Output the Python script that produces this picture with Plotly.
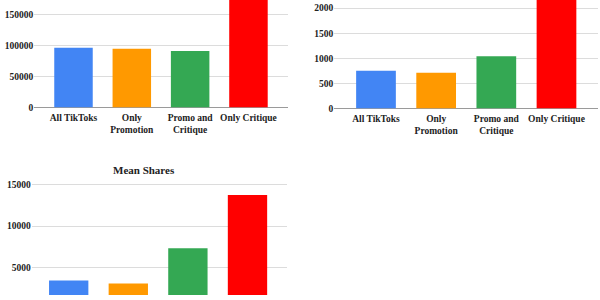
import plotly.graph_objects as go

categories = ["All TikToks", "Only<br>Promotion", "Promo and<br>Critique", "Only Critique"]
colors = ["#4285F4", "#FF9900", "#34A853", "#FF0000"]

# Top-left chart (title cropped): values; red bar exceeds visible area (estimated)
tl_values = [96800, 95200, 91400, 200000]
tl_ticks = [0, 50000, 100000, 150000]

# Top-right chart (title cropped); red bar exceeds visible area (estimated)
tr_values = [751, 712, 1039, 2500]
tr_ticks = [0, 500, 1000, 1500, 2000]

# Bottom-left chart: Mean Shares
bl_title = "Mean Shares"
bl_values = [3460, 3110, 7360, 13750]
bl_ticks = [5000, 10000, 15000]

FONT = "Liberation Serif"
W, H = 600, 300

def px_x(p):
    return p / W

def px_y(p):
    return 1 - p / H

def bold(items):
    return ["<b>" + str(t) + "</b>" for t in items]

fig = go.Figure()

fig.add_trace(go.Bar(x=categories, y=tl_values, marker_color=colors, xaxis="x", yaxis="y",
                     showlegend=False, marker_line_width=0))
fig.add_trace(go.Bar(x=categories, y=tr_values, marker_color=colors, xaxis="x2", yaxis="y2",
                     showlegend=False, marker_line_width=0))
fig.add_trace(go.Bar(x=categories, y=bl_values, marker_color=colors, xaxis="x3", yaxis="y3",
                     showlegend=False, marker_line_width=0))

tickfont = dict(family=FONT, size=9.5, color="#222222")
common_x = dict(type="category", showgrid=False, zeroline=False, showline=False,
                ticks="", tickfont=tickfont, fixedrange=True, ticklabelstandoff=3,
                tickmode="array", tickvals=categories, ticktext=bold(categories))
common_y = dict(showgrid=True, gridcolor="#dcdcdc", gridwidth=1, zeroline=True,
                zerolinecolor="#9a9a9a", zerolinewidth=1, showline=False, ticks="",
                tickfont=tickfont, fixedrange=True, tickmode="array")

fig.update_layout(
    width=W, height=H,
    margin=dict(l=0, r=0, t=0, b=0),
    paper_bgcolor="white", plot_bgcolor="white",
    bargap=0.34,
    xaxis=dict(common_x, domain=[px_x(34.3), px_x(288.3)], range=[-0.672, 3.683], anchor="y"),
    yaxis=dict(common_y, domain=[px_y(109.3), 1], range=[0, 173900], tickvals=tl_ticks,
               ticktext=bold(tl_ticks), anchor="x"),
    xaxis2=dict(common_x, domain=[px_x(334.3), px_x(598)], range=[-0.693, 3.69], anchor="y2"),
    yaxis2=dict(common_y, domain=[px_y(110.3), 1], range=[0, 2163], tickvals=tr_ticks,
                ticktext=bold(tr_ticks), anchor="x2"),
    xaxis3=dict(common_x, domain=[px_x(31.7), px_x(287.3)], range=[-0.621, 3.668], anchor="y3",
                showticklabels=False),
    yaxis3=dict(common_y, domain=[0, px_y(180)], range=[1726, 15910], tickvals=bl_ticks,
                ticktext=bold(bl_ticks), anchor="x3", zeroline=False),
    annotations=[dict(text="<b>" + bl_title + "</b>", xref="paper", yref="paper",
                      x=px_x(144), y=px_y(172.7), xanchor="center", yanchor="middle",
                      showarrow=False, font=dict(family=FONT, size=11, color="#222222"))],
)

fig.write_html("out.html")
